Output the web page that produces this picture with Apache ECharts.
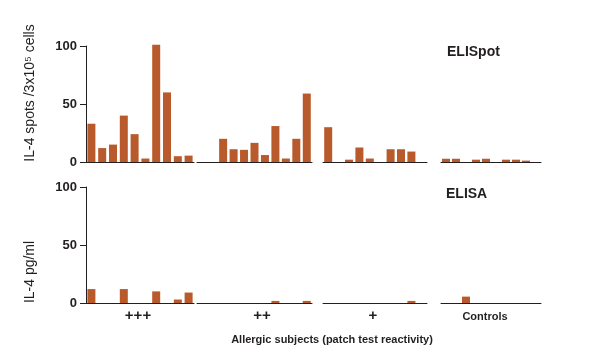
<!DOCTYPE html>
<html>
<head>
<meta charset="utf-8">
<script src="https://cdn.jsdelivr.net/npm/echarts@6/dist/echarts.min.js"></script>
<style>
html,body{margin:0;padding:0;background:#fff;}
#chart{width:592px;height:364px;}
</style>
</head>
<body>
<div id="chart"></div>
<script>
// ---- Data ----
const groupNames = ['+++', '++', '+', 'Controls'];
const subjectsPPP = ['1','2','3','4','5','6','7','8','9','10'];
const subjectsPP = ['1','2','3','4','5','6','7','8','9','10','11'];
const subjectsP = ['1','2','3','4','5','6','7','8','9','10'];
const subjectsC = ['1','2','3','4','5','6','7','8','9','10'];

const elispotPPP = [33, 12, 15, 40, 24, 3, 101, 60, 5, 5.5];
const elispotPP  = [0, 0, 20, 11, 10.5, 16.5, 6, 31, 3, 20, 59];
const elispotP   = [30, 0, 2, 12.5, 3, 0, 11, 11, 9, 0];
const elispotC   = [2.8, 2.8, 0, 2, 2.8, 0, 2, 2, 1.2, 0];

const elisaPPP = [12, 0, 0, 12, 0, 0, 10, 0, 3, 9];
const elisaPP  = [0, 0, 0, 0, 0, 0, 0, 1.8, 0, 0, 1.8];
const elisaP   = [0, 0, 0, 0, 0, 0, 0, 0, 1.8, 0];
const elisaC   = [0, 0, 5.5, 0, 0, 0, 0, 0, 0, 0];

const yTicks = [0, 50, 100];

// ---- Layout ----
const groupX = [
  {left: 86, width: 108},
  {left: 197, width: 115},
  {left: 323, width: 104},
  {left: 441, width: 100}
];
const panelY = [{top: 46, height: 116}, {top: 187, height: 116}];
const namePad = [[0,4,0,0],[0,0,0,15],[0,4,0,0],[0,12,0,0]];
const nameFont = [15, 15, 15, 11];

const cats = [subjectsPPP, subjectsPP, subjectsP, subjectsC];
const panels = [
  [elispotPPP, elispotPP, elispotP, elispotC],
  [elisaPPP, elisaPP, elisaP, elisaC]
];

const barColor = '#B85A2B';
const ink = '#231F20';
const FONT = '"Liberation Sans", Arial, sans-serif';

const grid = [], xAxis = [], yAxis = [], series = [];
panels.forEach((pdata, p) => {
  pdata.forEach((d, g) => {
    const idx = grid.length;
    grid.push({
      left: groupX[g].left, width: groupX[g].width,
      top: panelY[p].top, height: panelY[p].height,
      containLabel: false, outerBoundsMode: 'none'
    });
    xAxis.push({
      type: 'category', gridIndex: idx, data: cats[g],
      axisLine: {show: true, lineStyle: {color: ink, width: 1}},
      axisTick: {show: false}, axisLabel: {show: false},
      name: p === 1 ? groupNames[g] : '',
      nameLocation: 'middle', nameGap: nameFont[g] === 15 ? 5 : 8,
      nameTextStyle: {color: ink, fontFamily: FONT, fontWeight: 'bold',
        fontSize: nameFont[g], padding: namePad[g]}
    });
    const showY = g === 0;
    yAxis.push({
      type: 'value', gridIndex: idx, min: 0, max: 100, interval: 50,
      show: showY,
      splitLine: {show: false},
      axisLine: {show: showY, lineStyle: {color: ink, width: 1}},
      axisTick: {show: showY, length: 6, lineStyle: {color: ink}},
      axisLabel: {show: showY, margin: 9, color: ink, fontFamily: FONT,
        fontWeight: 'bold', fontSize: 13,
        formatter: v => yTicks.indexOf(v) >= 0 ? String(v) : ''}
    });
    series.push({
      type: 'bar', xAxisIndex: idx, yAxisIndex: idx, data: d,
      barWidth: 8, clip: false, silent: true, animation: false,
      itemStyle: {color: barColor}
    });
  });
});

const chart = echarts.init(document.getElementById('chart'), null, {renderer: 'canvas'});
chart.setOption({
  animation: false,
  backgroundColor: '#ffffff',
  grid, xAxis, yAxis, series,
  title: [
    {text: 'ELISpot', left: 442, top: 40, textStyle: {color: ink, fontFamily: FONT, fontWeight: 'bold', fontSize: 14}},
    {text: 'ELISA', left: 441, top: 182, textStyle: {color: ink, fontFamily: FONT, fontWeight: 'bold', fontSize: 14}}
  ],
  graphic: [
    {type: 'text', x: 30, y: 93, rotation: Math.PI / 2,
     style: {text: 'IL-4 spots /3x10\u2075 cells', fill: ink, font: '14px ' + FONT, textAlign: 'center', textVerticalAlign: 'middle'}},
    {type: 'text', x: 30, y: 272, rotation: Math.PI / 2,
     style: {text: 'IL-4 pg/ml', fill: ink, font: '14px ' + FONT, textAlign: 'center', textVerticalAlign: 'middle'}},
    {type: 'text', x: 332, y: 340,
     style: {text: 'Allergic subjects (patch test reactivity)', fill: ink, font: 'bold 11px ' + FONT, textAlign: 'center', textVerticalAlign: 'middle'}}
  ]
});
</script>
</body>
</html>
